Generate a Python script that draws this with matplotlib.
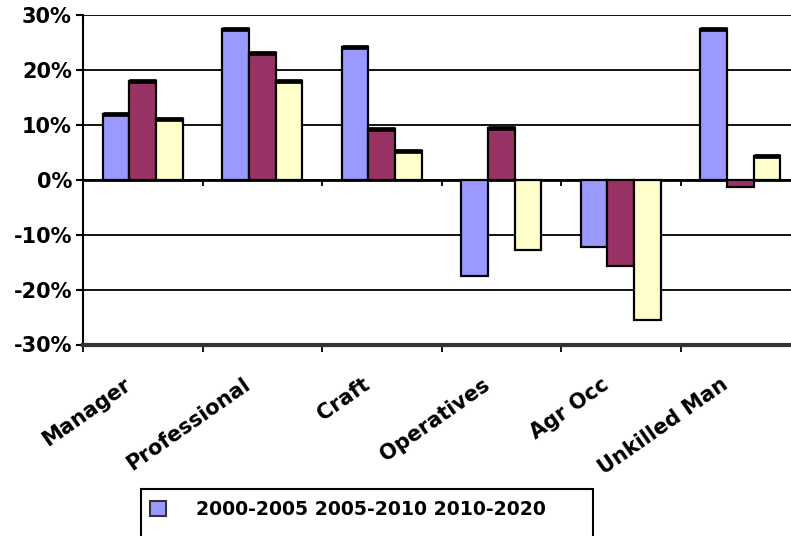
import matplotlib
matplotlib.use("Agg")
import matplotlib.pyplot as plt
from matplotlib.patches import Rectangle
from matplotlib.transforms import ScaledTranslation
import numpy as np

# Occupational growth by period (percent)
categories = ["Manager", "Professional", "Craft", "Operatives", "Agr Occ", "Unkilled Man"]
series_names = ["2000-2005", "2005-2010", "2010-2020"]
growth_2000_2005 = [12.0, 27.5, 24.2, -17.5, -12.2, 27.5]
growth_2005_2010 = [17.9, 23.0, 9.3, 9.5, -15.7, -1.4]
growth_2010_2020 = [11.0, 17.9, 5.2, -12.8, -25.5, 4.4]
y_ticks = [-30, -20, -10, 0, 10, 20, 30]

series_values = [growth_2000_2005, growth_2005_2010, growth_2010_2020]
colors = ["#9999FF", "#993366", "#FFFFCC"]

W, H = 791, 536
fig = plt.figure(figsize=(W / 100, H / 100), dpi=100)
fig.patch.set_facecolor("white")

# plot area in pixel terms
left_px, right_px, top_px, bot_px = 83, 800, 15, 344.5
ax = fig.add_axes([left_px / W, 1 - bot_px / H, (right_px - left_px) / W, (bot_px - top_px) / H])
ax.set_xlim(-0.5, len(categories) - 0.5)
ax.set_ylim(-30, 30)

# horizontal gridlines
for t in y_ticks:
    ax.axhline(t, color="black", lw=1.3, zorder=1)

x = np.arange(len(categories))
bw = 0.222
offsets = [-bw, 0.0, bw]
for vals, off, col in zip(series_values, offsets, colors):
    xs = x + off
    ax.bar(xs, vals, width=bw, color=col, edgecolor="black", linewidth=1.6, zorder=3)
    # dark top face on rising bars
    pos = [(xi, v) for xi, v in zip(xs, vals) if v > 0]
    if pos:
        px_, pv = zip(*pos)
        ax.hlines(pv, np.array(px_) - bw / 2, np.array(px_) + bw / 2,
                  color="black", lw=3.4, zorder=4)

# category axis crossing at zero
ax.axhline(0, color="black", lw=2.0, zorder=2)
bounds = np.arange(0.5, len(categories) - 0.5, 1.0)
ax.vlines(bounds, -1.15, 0, color="black", lw=1.3, zorder=2)

# spines
for s in ["top", "right"]:
    ax.spines[s].set_visible(False)
ax.spines["left"].set_linewidth(1.5)
ax.spines["bottom"].set_linewidth(3.0)
ax.spines["bottom"].set_color("#333333")

# y ticks
ax.set_yticks(y_ticks)
ax.set_yticklabels([f"{t}%" for t in y_ticks])
ax.tick_params(axis="y", direction="out", length=5, width=1.5, pad=3)
for lab in ax.get_yticklabels():
    lab.set_fontfamily("DejaVu Sans")
    lab.set_fontweight("bold")
    lab.set_fontsize(15)

# x ticks at category boundaries
ax.set_xticks(np.arange(-0.5, len(categories) + 0.5, 1.0))
ax.set_xticklabels([])
ax.tick_params(axis="x", direction="out", length=5, width=1.3)

# rotated category labels
for i, name in enumerate(categories):
    t = ax.text(i, 0, name, transform=ax.get_xaxis_transform(), rotation=35,
                ha="right", va="center", rotation_mode="anchor",
                fontsize=15, fontweight="bold", family="DejaVu Sans", color="black")
    t.set_transform(ax.get_xaxis_transform() + ScaledTranslation(-14 / 100, -38 / 100, fig.dpi_scale_trans))

# legend
legend_handle = Rectangle((0, 0), 1, 1, facecolor=colors[0], edgecolor="#333333", linewidth=1.5)
fig.legend([legend_handle], [" ".join(series_names)], loc="center left",
           bbox_to_anchor=(150 / W, 1 - 509.5 / H), frameon=False,
           borderpad=0, borderaxespad=0, handlelength=0.85, handleheight=0.85,
           handletextpad=1.6,
           prop={"family": "DejaVu Sans", "weight": "bold", "size": 13.6})
fig.patches.append(Rectangle((141 / W, -0.1), (593 - 141) / W, 0.1 + (1 - 489 / H),
                             transform=fig.transFigure, facecolor="none",
                             edgecolor="black", linewidth=1.5))

fig.savefig("out.png", dpi=100, facecolor="white")
